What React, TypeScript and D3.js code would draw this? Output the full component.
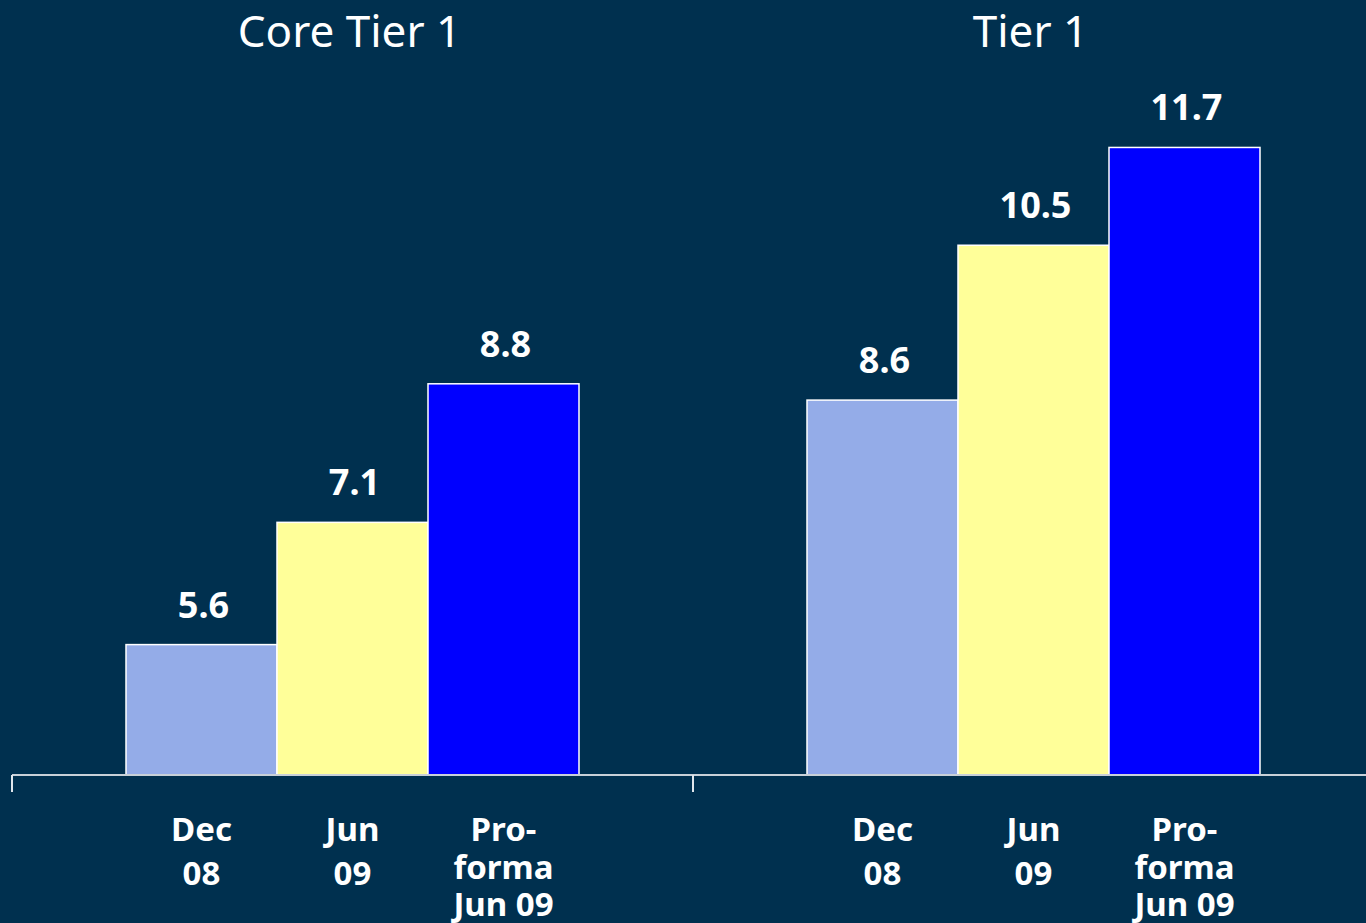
import { useRef, useEffect } from "react";
import * as d3 from "d3";

const groups = ["Core Tier 1", "Tier 1"];
const periods = ["Dec 08", "Jun 09", "Pro-forma Jun 09"];
const periodLines = [["Dec", "08"], ["Jun", "09"], ["Pro-", "forma", "Jun 09"]];
const coreTier1 = [5.6, 7.1, 8.8];
const tier1 = [8.6, 10.5, 11.7];
const seriesValues = [coreTier1, tier1];

const colors = ["#94ACE8", "#FFFF99", "#0000FF"];

const W = 1366;
const H = 923;

export default function App() {
  const ref = useRef<SVGSVGElement>(null);

  useEffect(() => {
    const svg = d3.select(ref.current);
    svg.selectAll("*").remove();

    const baseY = 775;
    const font = "'Noto Sans', 'Open Sans', sans-serif";

    svg.append("rect").attr("width", W).attr("height", H).attr("fill", "#00304F");

    const x0 = d3.scaleBand<string>().domain(groups).range([12, 1374]).paddingInner(0);
    const x1 = d3
      .scaleBand<string>()
      .domain(periods)
      .range([0, x0.bandwidth()])
      .paddingInner(0)
      .paddingOuter(0.755);
    const y = d3.scaleLinear().domain([4, 12]).range([baseY, baseY - 8 * 81.5]);

    // group titles
    svg
      .selectAll("text.title")
      .data(groups)
      .join("text")
      .attr("class", "title")
      .attr("x", (d) => x0(d)! + x0.bandwidth() / 2 - 3)
      .attr("y", 47)
      .attr("text-anchor", "middle")
      .attr("fill", "#fff")
      .attr("font-family", font)
      .attr("font-size", 44)
      .text((d) => d);

    const g = svg
      .selectAll("g.grp")
      .data(groups)
      .join("g")
      .attr("class", "grp")
      .attr("transform", (d) => `translate(${x0(d)},0)`);

    g.each(function (grp, gi) {
      const sel = d3.select(this);
      const vals = seriesValues[gi];
      sel
        .selectAll("rect")
        .data(vals)
        .join("rect")
        .attr("x", (_, i) => x1(periods[i])!)
        .attr("y", (d) => y(d))
        .attr("width", x1.bandwidth())
        .attr("height", (d) => baseY - y(d))
        .attr("fill", (_, i) => colors[i])
        .attr("stroke", "#fff")
        .attr("stroke-width", 1.5);

      sel
        .selectAll("text.val")
        .data(vals)
        .join("text")
        .attr("class", "val")
        .attr("x", (_, i) => x1(periods[i])! + x1.bandwidth() / 2 + 2)
        .attr("y", (d) => y(d) - 27)
        .attr("text-anchor", "middle")
        .attr("fill", "#fff")
        .attr("font-family", font)
        .attr("font-weight", "bold")
        .attr("font-size", 36)
        .text((d) => d.toFixed(1));

      // category labels
      periodLines.forEach((lines, i) => {
        const cx = x1(periods[i])! + x1.bandwidth() / 2;
        const step = lines.length > 2 ? 37.5 : 44;
        const t = sel
          .append("text")
          .attr("text-anchor", "middle")
          .attr("fill", "#fff")
          .attr("font-family", font)
          .attr("font-weight", "bold")
          .attr("font-size", 33);
        lines.forEach((ln, li) => {
          t.append("tspan")
            .attr("x", cx)
            .attr("y", 841 + li * step)
            .text(ln);
        });
      });
    });

    // axis
    svg
      .append("line")
      .attr("x1", 12)
      .attr("x2", W)
      .attr("y1", baseY)
      .attr("y2", baseY)
      .attr("stroke", "#C8D0D8")
      .attr("stroke-width", 2);
    svg
      .selectAll("line.tick")
      .data(groups)
      .join("line")
      .attr("class", "tick")
      .attr("x1", (d) => x0(d)!)
      .attr("x2", (d) => x0(d)!)
      .attr("y1", baseY)
      .attr("y2", baseY + 17)
      .attr("stroke", "#E0E6EC")
      .attr("stroke-width", 2);
  }, []);

  return (
    <svg
      ref={ref}
      width={W}
      height={H}
      style={{ position: "absolute", left: 0, top: 0, display: "block" }}
    />
  );
}
